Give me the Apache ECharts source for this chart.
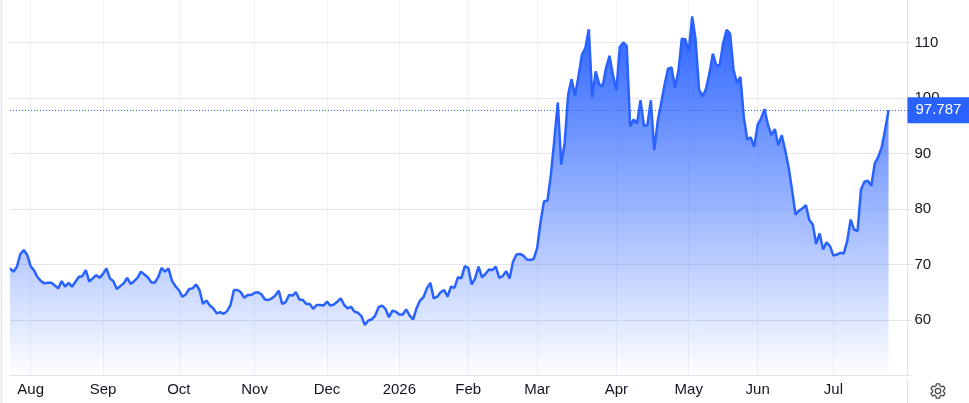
<!DOCTYPE html>
<html>
<head>
<meta charset="utf-8">
<style>html,body{margin:0;padding:0;background:#fff}#c{width:969px;height:403px}</style>
<script src="https://cdn.jsdelivr.net/npm/echarts@6/dist/echarts.min.js"></script>
</head>
<body>
<div id="c"></div>
<script>
const prices = [
69.3,68.7,69.6,71.9,72.6,71.7,69.7,68.9,67.7,67.0,66.6,66.7,66.7,66.2,65.7,67.0,66.0,66.7,66.0,66.9,
67.8,67.9,69.0,66.9,67.5,68.1,67.6,68.3,69.3,67.5,67.0,65.6,66.1,66.6,67.6,66.5,67.0,67.6,68.7,68.2,
67.7,66.8,66.7,67.7,69.4,68.7,69.3,67.1,66.1,65.4,64.2,64.6,65.6,65.7,66.4,65.4,62.9,63.5,62.6,62.1,
61.2,61.4,61.1,61.6,62.7,65.4,65.4,65.0,64.0,64.5,64.5,64.9,65.0,64.6,63.7,63.6,63.9,64.4,65.3,62.9,
63.2,64.5,64.4,65.0,63.7,63.6,62.9,62.9,62.0,62.7,62.7,62.6,63.3,62.6,62.8,63.3,63.9,62.7,62.1,62.4,
61.5,61.3,60.7,59.1,59.9,60.1,60.8,62.3,62.6,62.0,60.5,61.7,61.5,61.0,61.0,61.9,60.8,60.1,62.1,63.5,
64.1,65.7,66.7,63.9,64.2,65.0,65.4,64.2,66.0,65.8,67.7,67.5,69.7,69.4,66.4,67.5,69.6,67.7,68.3,69.1,
69.0,69.6,67.6,67.9,68.8,67.5,70.5,71.8,71.9,71.6,70.9,70.8,71.0,72.9,77.7,81.4,81.5,86.2,92.5,99.2,
88.0,91.9,100.6,103.4,100.4,103.9,107.8,109.0,112.4,100.1,104.8,102.5,102.1,105.4,107.6,104.2,101.4,109.2,110.0,109.4,
94.9,96.1,95.4,99.6,95.0,95.1,99.6,90.6,95.8,99.1,102.4,105.3,105.5,101.9,104.8,110.7,110.6,108.4,114.7,110.5,
101.5,100.3,101.6,104.4,108.0,105.9,105.9,109.9,112.3,111.6,105.1,102.7,103.8,96.5,92.5,92.9,91.2,95.2,96.3,98.0,
95.2,93.3,94.4,91.5,93.3,90.6,87.5,83.4,79.0,79.7,80.1,80.7,78.0,77.2,73.7,75.6,72.7,74.0,73.3,71.6,
71.8,72.1,72.0,74.2,78.1,76.3,76.0,83.5,84.9,85.1,84.2,88.2,89.4,91.1,94.3,97.787
];
const monthTicks = [6,27,49,71,92,113,133,153,176,197,217,239];
const monthLabels = ['Aug','Sep','Oct','Nov','Dec','2026','Feb','Mar','Apr','May','Jun','Jul'];
const priceTicks = [60,70,80,90,100,110];
const lastPrice = 97.787;
const blue = '#2962ff';
const ink = '#131722';
const font = '"Liberation Sans", Arial, sans-serif';
const gear = 'M19.14 12.94c.04-.3.06-.61.06-.94 0-.32-.02-.64-.07-.94l2.03-1.58c.18-.14.23-.41.12-.61l-1.92-3.32c-.12-.22-.37-.29-.59-.22l-2.39.96c-.5-.38-1.03-.7-1.62-.94l-.36-2.54c-.04-.24-.24-.41-.48-.41h-3.84c-.24 0-.43.17-.47.41l-.36 2.54c-.59.24-1.13.57-1.62.94l-2.39-.96c-.22-.08-.47 0-.59.22L2.74 8.87c-.12.21-.08.47.12.61l2.03 1.58c-.05.3-.09.63-.09.94s.02.64.07.94l-2.03 1.58c-.18.14-.23.41-.12.61l1.92 3.32c.12.22.37.29.59.22l2.39-.96c.5.38 1.03.7 1.62.94l.36 2.54c.05.24.24.41.48.41h3.84c.24 0 .44-.17.47-.41l.36-2.54c.59-.24 1.13-.56 1.62-.94l2.39.96c.22.08.47 0 .59-.22l1.92-3.32c.12-.22.07-.47-.12-.61l-2.01-1.58zM12 15.6c-1.98 0-3.6-1.62-3.6-3.6s1.62-3.6 3.6-3.6 3.6 1.62 3.6 3.6-1.62 3.6-3.6 3.6z';
echarts.graphic.registerShape('gearIcon', echarts.graphic.extendPath(gear, {}));

const chart = echarts.init(document.getElementById('c'), null, {renderer:'canvas'});
chart.setOption({
  animation:false,
  backgroundColor:'#fff',
  textStyle:{fontFamily:font},
  grid:{left:10,right:61.5,top:0,bottom:27.5,containLabel:false},
  xAxis:{
    type:'value',min:0,max:260.5,
    axisLine:{show:true,onZero:false,lineStyle:{color:'#e0e3eb',width:1}},
    axisTick:{show:false,customValues:monthTicks},
    axisLabel:{customValues:monthTicks,color:ink,fontSize:15,fontFamily:font,margin:7,
      formatter:v=>monthLabels[monthTicks.indexOf(v)]||''},
    splitLine:{show:true,lineStyle:{color:'#edf1f6',width:1}}
  },
  yAxis:{
    type:'value',position:'right',min:50,max:117.66,
    axisLine:{show:true,onZero:false,lineStyle:{color:'#e0e3eb',width:1}},
    axisTick:{show:true,length:5,customValues:priceTicks,lineStyle:{color:'#e0e3eb'}},
    axisLabel:{customValues:priceTicks,color:ink,fontSize:15,fontFamily:font,margin:7},
    splitLine:{show:true,lineStyle:{color:'#e6e6e6',width:1}}
  },
  series:[{
    type:'line',
    data:prices.map((p,i)=>[i,p]),
    showSymbol:false,symbol:'none',
    lineStyle:{color:blue,width:2.5},
    itemStyle:{color:blue},
    areaStyle:{opacity:1,origin:'start',color:new echarts.graphic.LinearGradient(0,0,0,1,[
      {offset:0,color:'rgba(41,98,255,1)'},
      {offset:1,color:'rgba(41,98,255,0)'}
    ])},
    markLine:{
      silent:true,symbol:'none',animation:false,
      lineStyle:{color:blue,type:[1,2],width:1},
      label:{show:true,position:'end',distance:0,align:'left',color:'#fff',backgroundColor:blue,
        fontSize:15,fontFamily:font,padding:[6,8,5,8],formatter:()=>lastPrice.toFixed(3)},
      data:[{yAxis:lastPrice}]
    }
  }],
  graphic:[
    {type:'line',silent:true,shape:{x1:907.5,y1:379,x2:907.5,y2:403},style:{stroke:'#e0e3eb',lineWidth:1}},
    {type:'line',silent:true,shape:{x1:911.5,y1:375.5,x2:907.5,y2:375.5},style:{stroke:'#e0e3eb',lineWidth:1}},
    {type:'line',silent:true,shape:{x1:1.5,y1:0,x2:1.5,y2:403},style:{stroke:'#e4e4e4',lineWidth:1.5}},
    {type:'gearIcon',silent:true,x:929,y:382,scaleX:0.75,scaleY:0.75,
      style:{fill:'none',stroke:'#444',lineWidth:1.6}}
  ]
});
</script>
</body>
</html>
